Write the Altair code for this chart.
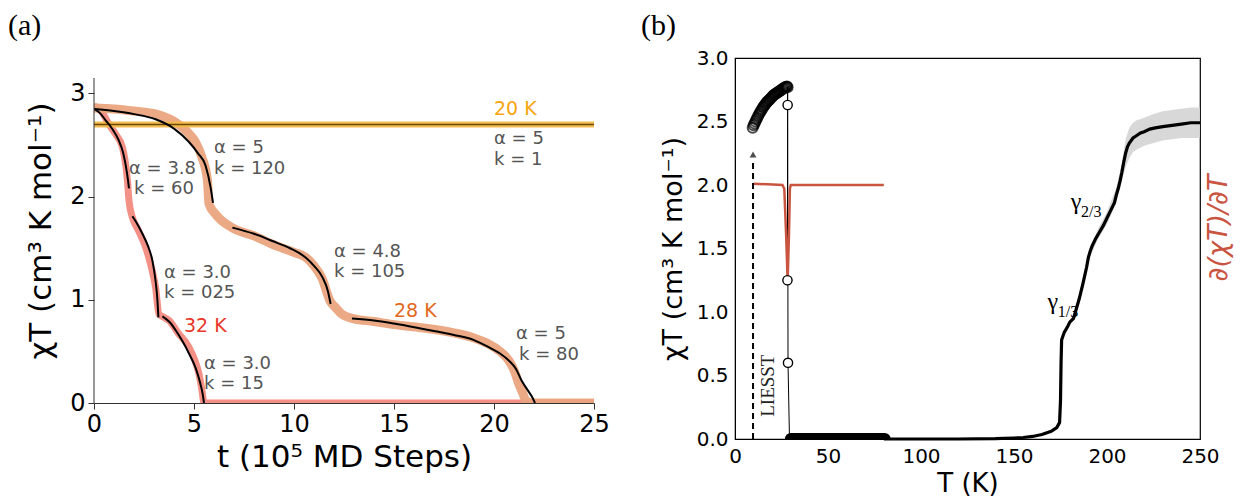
import altair as alt
import pandas as pd

# ---------------- Panel (a) data ----------------
# 20 K run (flat)
t20 = [0, 5, 10, 15, 20, 25]
y20 = [2.70, 2.70, 2.70, 2.70, 2.70, 2.70]

# 28 K run (MD trace)
t28 = [0, 1.0, 2.0, 3.1, 4.0, 4.75, 5.1, 5.4, 5.67, 5.75, 6.08, 6.9, 8.0, 8.9, 10.0, 10.6, 11.0, 11.4, 11.8,
       12.1, 12.4, 12.9, 14.0, 15.0, 16.4, 18.0, 19.0, 19.75, 20.3, 20.75, 21.0, 21.25, 21.45, 21.6, 22.0, 25.0]
y28 = [2.86, 2.85, 2.83, 2.80, 2.73, 2.61, 2.52, 2.38, 2.16, 1.93, 1.83, 1.70, 1.62, 1.54, 1.46, 1.41, 1.33, 1.21, 0.99,
       0.92, 0.86, 0.82, 0.79, 0.76, 0.73, 0.68, 0.63, 0.57, 0.50, 0.41, 0.32, 0.18, 0.09, 0.02, 0.0, 0.0]

# 32 K run (MD trace)
t32 = [0, 0.4, 0.75, 1.1, 1.42, 1.67, 1.75, 1.92, 2.2, 2.58, 2.85, 3.08, 3.25, 3.5, 3.75, 4.2, 4.75, 5.05, 5.25, 5.4, 5.5, 25.0]
y32 = [2.88, 2.82, 2.70, 2.60, 2.48, 2.16, 1.96, 1.80, 1.68, 1.51, 1.33, 1.12, 0.86, 0.83, 0.80, 0.68, 0.54, 0.41, 0.28, 0.12, 0.0, 0.0]

# fitted curves (black)
f28a_t = [0, 1.0, 2.0, 3.08, 4.0, 4.75, 5.2, 5.58, 5.83, 5.95]
f28a_y = [2.85, 2.83, 2.80, 2.75, 2.66, 2.53, 2.42, 2.30, 2.09, 1.94]
f28b_t = [6.92, 8.0, 8.92, 9.8, 10.58, 11.0, 11.42, 11.7, 11.83]
f28b_y = [1.70, 1.64, 1.57, 1.50, 1.41, 1.33, 1.22, 1.08, 0.96]
f28c_t = [12.9, 14.0, 15.0, 16.4, 18.0, 19.0, 19.75, 20.3, 20.75, 21.1, 21.4, 21.7, 21.9, 22.05]
f28c_y = [0.82, 0.80, 0.77, 0.72, 0.66, 0.61, 0.54, 0.48, 0.41, 0.33, 0.21, 0.12, 0.06, 0.0]
f32a_t = [0, 0.3, 0.58, 0.9, 1.25, 1.45, 1.58, 1.7, 1.75]
f32a_y = [2.85, 2.81, 2.74, 2.66, 2.54, 2.43, 2.31, 2.16, 2.08]
f32b_t = [1.92, 2.15, 2.42, 2.7, 2.92, 3.08, 3.17, 3.22]
f32b_y = [1.81, 1.74, 1.64, 1.52, 1.38, 1.18, 1.00, 0.83]
f32c_t = [3.42, 3.8, 4.1, 4.42, 4.75, 5.08, 5.3, 5.45, 5.5]
f32c_y = [0.84, 0.78, 0.70, 0.60, 0.48, 0.34, 0.20, 0.07, 0.0]

# annotations
ann_t = [6.0, 6.0, 1.75, 2.0, 3.5, 3.5, 5.5, 5.5, 12.0, 12.0, 21.1, 21.25, 20.0, 20.0]
ann_y = [2.47, 2.27, 2.27, 2.07, 1.26, 1.07, 0.38, 0.18, 1.46, 1.27, 0.67, 0.47, 2.56, 2.36]
ann_txt = ["α = 5", "k = 120", "α = 3.8", "k = 60", "α = 3.0", "k = 025", "α = 3.0", "k = 15",
           "α = 4.8", "k = 105", "α = 5", "k = 80", "α = 5", "k = 1"]
lab_t = [20.0, 15.0, 4.5]
lab_y = [2.85, 0.89, 0.75]
lab_txt = ["20 K", "28 K", "32 K"]
lab_col = ["#f5a50f", "#e2681c", "#e8382a"]

# ---------------- Panel (b) data ----------------
circ_T = [9.5, 10.0, 10.5, 11.0, 11.5, 12.0, 12.5, 13.0, 13.5, 14.0, 14.5, 15.0, 15.5, 16.0, 16.5, 17.0, 17.5,
          18.0, 18.5, 19.0, 19.5, 20.0, 20.5, 21.0, 21.5, 22.0, 22.5, 23.0, 23.5, 24.0, 24.5, 25.0, 25.5, 26.0,
          26.5, 27.0, 27.5, 28.0, 28.3]
circ_y = [2.45, 2.47, 2.485, 2.50, 2.515, 2.53, 2.545, 2.56, 2.573, 2.585, 2.597, 2.61, 2.62, 2.63, 2.64, 2.65,
          2.657, 2.665, 2.672, 2.68, 2.688, 2.695, 2.703, 2.71, 2.715, 2.72, 2.725, 2.73, 2.735, 2.74, 2.745,
          2.75, 2.755, 2.76, 2.765, 2.77, 2.773, 2.775, 2.77]
drop_T = [28.3, 28.2, 28.5]
drop_y = [2.63, 1.25, 0.60]
thin_T = [28.3, 28.3, 28.2, 28.5, 29.3]
thin_y = [2.77, 2.63, 1.25, 0.60, 0.0]
zero_T = [30.0, 80.5]
zero_y = [0.0, 0.0]
main_T = [80, 100, 120, 140, 150, 155, 160, 165, 170, 173, 174.5, 175, 175.3, 175.6, 177, 179, 180, 182, 183,
          185, 187, 189, 190, 191, 192, 194, 196, 198, 200, 202, 204, 205, 206, 207, 208, 209, 210, 211, 212,
          214, 216, 218, 220, 223, 226, 230, 235, 240, 245, 250]
main_y = [0.0, 0.0, 0.0, 0.003, 0.008, 0.012, 0.02, 0.035, 0.06, 0.09, 0.13, 0.3, 0.6, 0.78, 0.84, 0.89, 0.92,
          0.95, 1.0, 1.1, 1.22, 1.35, 1.43, 1.48, 1.52, 1.58, 1.63, 1.68, 1.74, 1.8, 1.86, 1.92, 1.97, 2.03,
          2.1, 2.18, 2.25, 2.3, 2.33, 2.37, 2.39, 2.41, 2.42, 2.44, 2.45, 2.46, 2.47, 2.48, 2.49, 2.49]
err_T = [190, 195, 200, 205, 208, 210, 212, 214, 216, 220, 225, 230, 235, 240, 245, 250]
err_lo = [1.40, 1.57, 1.69, 1.86, 2.03, 2.14, 2.21, 2.26, 2.28, 2.31, 2.33, 2.35, 2.36, 2.37, 2.37, 2.37]
err_hi = [1.46, 1.65, 1.79, 1.98, 2.17, 2.36, 2.45, 2.49, 2.51, 2.53, 2.56, 2.58, 2.59, 2.60, 2.61, 2.61]
der_T = [10, 25.5, 26.5, 27.5, 28.3, 29.0, 29.5, 30, 80]
der_y = [2.01, 2.0, 1.97, 1.6, 1.25, 1.6, 1.97, 2.0, 2.0]

# ---------------- Panel (a) ----------------
XA = alt.Scale(domain=[0, 25], nice=False, zero=False)
YA = alt.Scale(domain=[0, 3.344], nice=False, zero=False)
ax_x = alt.Axis(values=[0, 5, 10, 15, 20, 25], title="t (10⁵ MD Steps)", grid=False, labelFontSize=24,
                titleFontSize=31, titleFontWeight="normal", tickSize=6, labelPadding=3, titlePadding=6,
                labelFlush=False, domainColor="#333333", tickColor="#333333", labelColor="black",
                titleColor="black")
ax_y = alt.Axis(values=[0, 1, 2, 3], title="χT (cm³ K mol⁻¹)", grid=False, domain=False, labelFontSize=24,
                titleFontSize=31, titleFontWeight="normal", tickSize=6, labelPadding=3, titlePadding=12,
                labelFlush=False, tickColor="#333333", labelColor="black", titleColor="black")


def ea():
    return dict(x=alt.X("t:Q", scale=XA, axis=ax_x), y=alt.Y("y:Q", scale=YA, axis=ax_y))


def df(a, b):
    return pd.DataFrame({"t": a, "y": b})


def ln(a, b, color, width, opacity=1.0):
    return alt.Chart(df(a, b)).mark_line(color=color, strokeWidth=width, opacity=opacity, clip=True,
                                         strokeCap="butt", interpolate="monotone").encode(**ea())


left_rule = alt.Chart(pd.DataFrame({"t": [0], "y": [0], "y2": [3.15]})).mark_rule(
    color="#333333", strokeWidth=1).encode(**ea(), y2="y2:Q")

ann_df = pd.DataFrame({"t": ann_t, "y": ann_y, "txt": ann_txt})
ann = alt.Chart(ann_df).mark_text(align="left", baseline="middle", fontSize=18, color="#555555",
                                  font="DejaVu Sans").encode(**ea(), text="txt:N")
lab_df = pd.DataFrame({"t": lab_t, "y": lab_y, "txt": lab_txt, "c": lab_col})
labs = alt.Chart(lab_df).mark_text(align="left", baseline="middle", fontSize=19, font="DejaVu Sans").encode(
    **ea(), text="txt:N", color=alt.Color("c:N", scale=None))
tag_a = alt.Chart(pd.DataFrame({"s": ["(a)"]})).mark_text(
    align="left", baseline="middle", fontSize=30, font="Liberation Serif", color="black").encode(
    x=alt.value(-86), y=alt.value(-32), text="s:N")

panel_a = alt.layer(
    ln(t32, y32, "#f28b80", 7, 0.95),
    ln(t28, y28, "#eaa47e", 9, 0.95),
    ln(t20, y20, "#f3b84a", 6, 0.95),
    ln(t20, y20, "#6b4a05", 1.6),
    ln(f28a_t, f28a_y, "black", 2), ln(f28b_t, f28b_y, "black", 2), ln(f28c_t, f28c_y, "black", 2),
    ln(f32a_t, f32a_y, "black", 2), ln(f32b_t, f32b_y, "black", 2), ln(f32c_t, f32c_y, "black", 2),
    left_rule, ann, labs, tag_a,
).properties(width=500, height=345)

# ---------------- Panel (b) ----------------
XB = alt.Scale(domain=[0, 250], nice=False, zero=False)
YB = alt.Scale(domain=[0, 3], nice=False, zero=False)
ax_xb = alt.Axis(values=[0, 50, 100, 150, 200, 250], title="T (K)", grid=False, labelFontSize=20,
                 titleFontSize=26, titleFontWeight="normal", tickSize=0, labelPadding=7, titlePadding=4,
                 labelFlush=False, domainColor="black", labelColor="black", titleColor="black")
ax_yb = alt.Axis(values=[0, 0.5, 1, 1.5, 2, 2.5, 3], format=".1f", title="χT (cm³ K mol⁻¹)", grid=False,
                 labelFontSize=20, titleFontSize=27, titleFontWeight="normal", tickSize=0, labelPadding=7,
                 titlePadding=9, labelFlush=False, domainColor="black", labelColor="black",
                 titleColor="black")


def dfb(a, b):
    return pd.DataFrame({"T": a, "y": b})


def encb():
    return dict(x=alt.X("T:Q", scale=XB, axis=ax_xb), y=alt.Y("y:Q", scale=YB, axis=ax_yb))


err = alt.Chart(pd.DataFrame({"T": err_T, "y": err_lo, "hi": err_hi})).mark_area(
    color="#d4d4d4", opacity=0.9).encode(**encb(), y2="hi:Q")
main = alt.Chart(dfb(main_T, main_y)).mark_line(color="black", strokeWidth=3.2).encode(**encb())
zero = alt.Chart(dfb(zero_T, zero_y)).mark_line(color="black", strokeWidth=12, strokeCap="round",
                                               clip=True).encode(**encb())
thin = alt.Chart(dfb(thin_T, thin_y)).mark_line(color="black", strokeWidth=1).encode(**encb())
der = alt.Chart(dfb(der_T, der_y)).mark_line(color="#c9543f", strokeWidth=2.5).encode(**encb())
circ = alt.Chart(dfb(circ_T, circ_y)).mark_point(shape="circle", size=100, color="black", strokeWidth=2,
                                                 filled=False).encode(**encb())
drop = alt.Chart(dfb(drop_T, drop_y)).mark_point(shape="circle", size=85, filled=True, fill="white",
                                                 stroke="black", strokeWidth=1.4, opacity=1).encode(**encb())
arrow = alt.Chart(dfb([9.7, 9.7], [0.0, 2.2])).mark_line(color="black", strokeWidth=2,
                                                        strokeDash=[6, 4]).encode(**encb())
head = alt.Chart(dfb([9.7], [2.24])).mark_point(shape="triangle-up", size=45, color="black",
                                               filled=True).encode(**encb())
liesst = alt.Chart(pd.DataFrame({"T": [17.5], "y": [0.42], "s": ["LIESST"]})).mark_text(
    angle=270, align="center", baseline="middle", fontSize=19, font="Liberation Serif", color="#222222").encode(
    **encb(), text="s:N")
gam = alt.Chart(pd.DataFrame({"T": [168.0, 180.5], "y": [1.08, 1.87], "s": ["γ", "γ"]})).mark_text(
    align="left", baseline="middle", fontSize=24, font="Liberation Serif", color="black").encode(
    **encb(), text="s:N")
gsub = alt.Chart(pd.DataFrame({"T": [173.5, 186.0], "y": [1.00, 1.79], "s": ["1/3", "2/3"]})).mark_text(
    align="left", baseline="middle", fontSize=16, font="Liberation Serif", color="black").encode(
    **encb(), text="s:N")
rlab = alt.Chart(pd.DataFrame({"s": ["∂(χT)/∂T"]})).mark_text(
    angle=270, align="center", baseline="middle", fontSize=27, font="DejaVu Sans", fontStyle="italic",
    color="#c9543f").encode(x=alt.value(484), y=alt.value(170), text="s:N")
tag_b = alt.Chart(pd.DataFrame({"s": ["(b)"]})).mark_text(
    align="left", baseline="middle", fontSize=30, font="Liberation Serif", color="black").encode(
    x=alt.value(-94), y=alt.value(-32), text="s:N")

panel_b = alt.layer(err, main, zero, thin, der, circ, drop, arrow, head, liesst, gam, gsub, rlab, tag_b
                    ).properties(width=465, height=381,
                                 view=alt.ViewBackground(stroke="black", strokeWidth=1.2))

chart = alt.hconcat(panel_a, panel_b, spacing=30).properties(
    padding={"left": 8, "top": 10, "right": 5, "bottom": 5}
).configure(font="DejaVu Sans", background="white", view=alt.ViewConfig(stroke=None))

chart.save("out.html", embed_options={"renderer": "svg", "actions": False})
